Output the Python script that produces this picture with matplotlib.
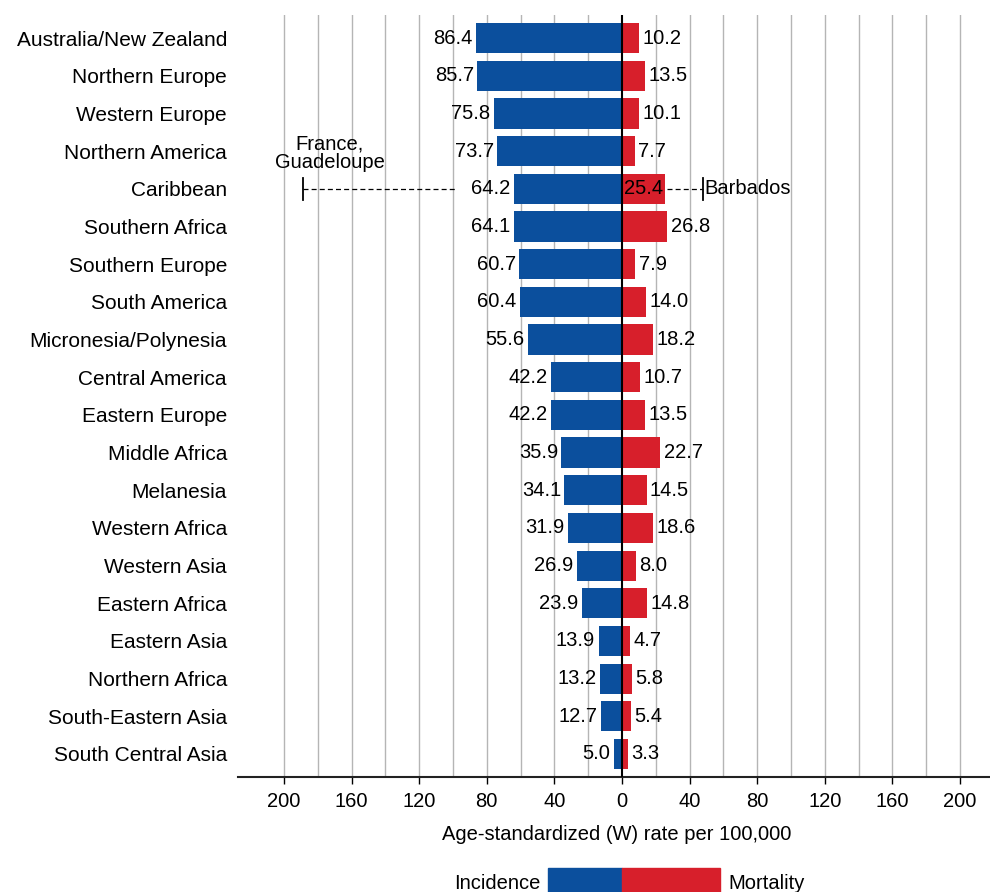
import numpy as np
import matplotlib
matplotlib.use("Agg")
import matplotlib.pyplot as plt
from matplotlib.patches import Rectangle

plt.rcParams["font.family"] = ["Liberation Sans", "DejaVu Sans"]

# ─── Datos ───────────────────────────────────────────────────────────────────
regions = [
    "Australia/New Zealand", "Northern Europe", "Western Europe", "Northern America",
    "Caribbean", "Southern Africa", "Southern Europe", "South America",
    "Micronesia/Polynesia", "Central America", "Eastern Europe", "Middle Africa",
    "Melanesia", "Western Africa", "Western Asia", "Eastern Africa",
    "Eastern Asia", "Northern Africa", "South-Eastern Asia", "South Central Asia",
]
incidence = [86.4, 85.7, 75.8, 73.7, 64.2, 64.1, 60.7, 60.4, 55.6, 42.2,
             42.2, 35.9, 34.1, 31.9, 26.9, 23.9, 13.9, 13.2, 12.7, 5.0]
mortality = [10.2, 13.5, 10.1, 7.7, 25.4, 26.8, 7.9, 14.0, 18.2, 10.7,
             13.5, 22.7, 14.5, 18.6, 8.0, 14.8, 4.7, 5.8, 5.4, 3.3]

# máximos por país dentro del Caribe
carib_max_inc_country, carib_max_inc = "France,\nGuadeloupe", 189.0
carib_max_mort_country, carib_max_mort = "Barbados", 48.0

ticks = [-200, -160, -120, -80, -40, 0, 40, 80, 120, 160, 200]

BLUE = "#0b4f9d"
RED = "#d71f2b"
FS = 14.5

# ─── Figura ──────────────────────────────────────────────────────────────────
fig = plt.figure(figsize=(9.9, 8.92), dpi=100)
ax = fig.add_axes([0.2404, 0.129, 0.7596, 0.854])

y = np.arange(len(regions))
ax.barh(y, -np.array(incidence), height=0.8, color=BLUE, zorder=2)
ax.barh(y, mortality, height=0.8, color=RED, zorder=2)

for g in range(-200, 201, 20):
    if g != 0:
        ax.axvline(g, color="#b5b5b5", lw=1.0, zorder=0)
ax.axvline(0, color="black", lw=1.5, zorder=3)

for i, (inc, mor) in enumerate(zip(incidence, mortality)):
    ax.text(-inc - 2, i, f"{inc:.1f}", ha="right", va="center", fontsize=FS, zorder=4)
    if regions[i] == "Caribbean":
        ax.text(1, i, f"{mor:.1f}", ha="left", va="center", fontsize=FS, zorder=4)
    else:
        ax.text(mor + 2, i, f"{mor:.1f}", ha="left", va="center", fontsize=FS, zorder=4)

# rangos del Caribe
ci = regions.index("Caribbean")
ax.plot([-carib_max_inc, -99], [ci, ci], ls=(0, (4, 2.5)), color="black", lw=0.9, zorder=1)
ax.plot([-carib_max_inc] * 2, [ci - 0.3, ci + 0.3], color="black", lw=1.3, zorder=1)
ax.text(-carib_max_inc + 16, ci - 0.95, carib_max_inc_country, ha="center", va="center",
        fontsize=FS, linespacing=0.95)
ax.plot([mortality[ci] + 1, carib_max_mort], [ci, ci],
        ls=(0, (4, 2.5)), color="black", lw=0.9, zorder=1)
ax.plot([carib_max_mort] * 2, [ci - 0.3, ci + 0.3], color="black", lw=1.3, zorder=1)
ax.text(carib_max_mort + 1, ci, carib_max_mort_country, ha="left", va="center", fontsize=FS)

ax.set_xlim(-227.2, 217.7)
ax.set_ylim(len(regions) - 0.39, -0.61)
ax.set_yticks(y)
ax.set_yticklabels(regions, fontsize=15)
ax.set_xticks(ticks)
ax.set_xticklabels([str(abs(t)) for t in ticks], fontsize=FS)
ax.tick_params(axis="y", length=0, pad=8)
ax.tick_params(axis="x", length=5, width=1.0, pad=6)

for side in ["top", "left", "right"]:
    ax.spines[side].set_visible(False)
ax.spines["bottom"].set_linewidth(1.5)
ax.spines["bottom"].set_color("#222222")

fig.text(0.623, 0.064, "Age-standardized (W) rate per 100,000",
         ha="center", va="center", fontsize=FS)

# leyenda
fig.patches.append(Rectangle((0.5535, -0.01), 0.0748, 0.037, color=BLUE,
                             transform=fig.transFigure, figure=fig))
fig.patches.append(Rectangle((0.6283, -0.01), 0.099, 0.037, color=RED,
                             transform=fig.transFigure, figure=fig))
fig.text(0.5455, 0.010, "Incidence", ha="right", va="center", fontsize=FS)
fig.text(0.7354, 0.010, "Mortality", ha="left", va="center", fontsize=FS)

fig.savefig("out.png", dpi=100, facecolor="white")
